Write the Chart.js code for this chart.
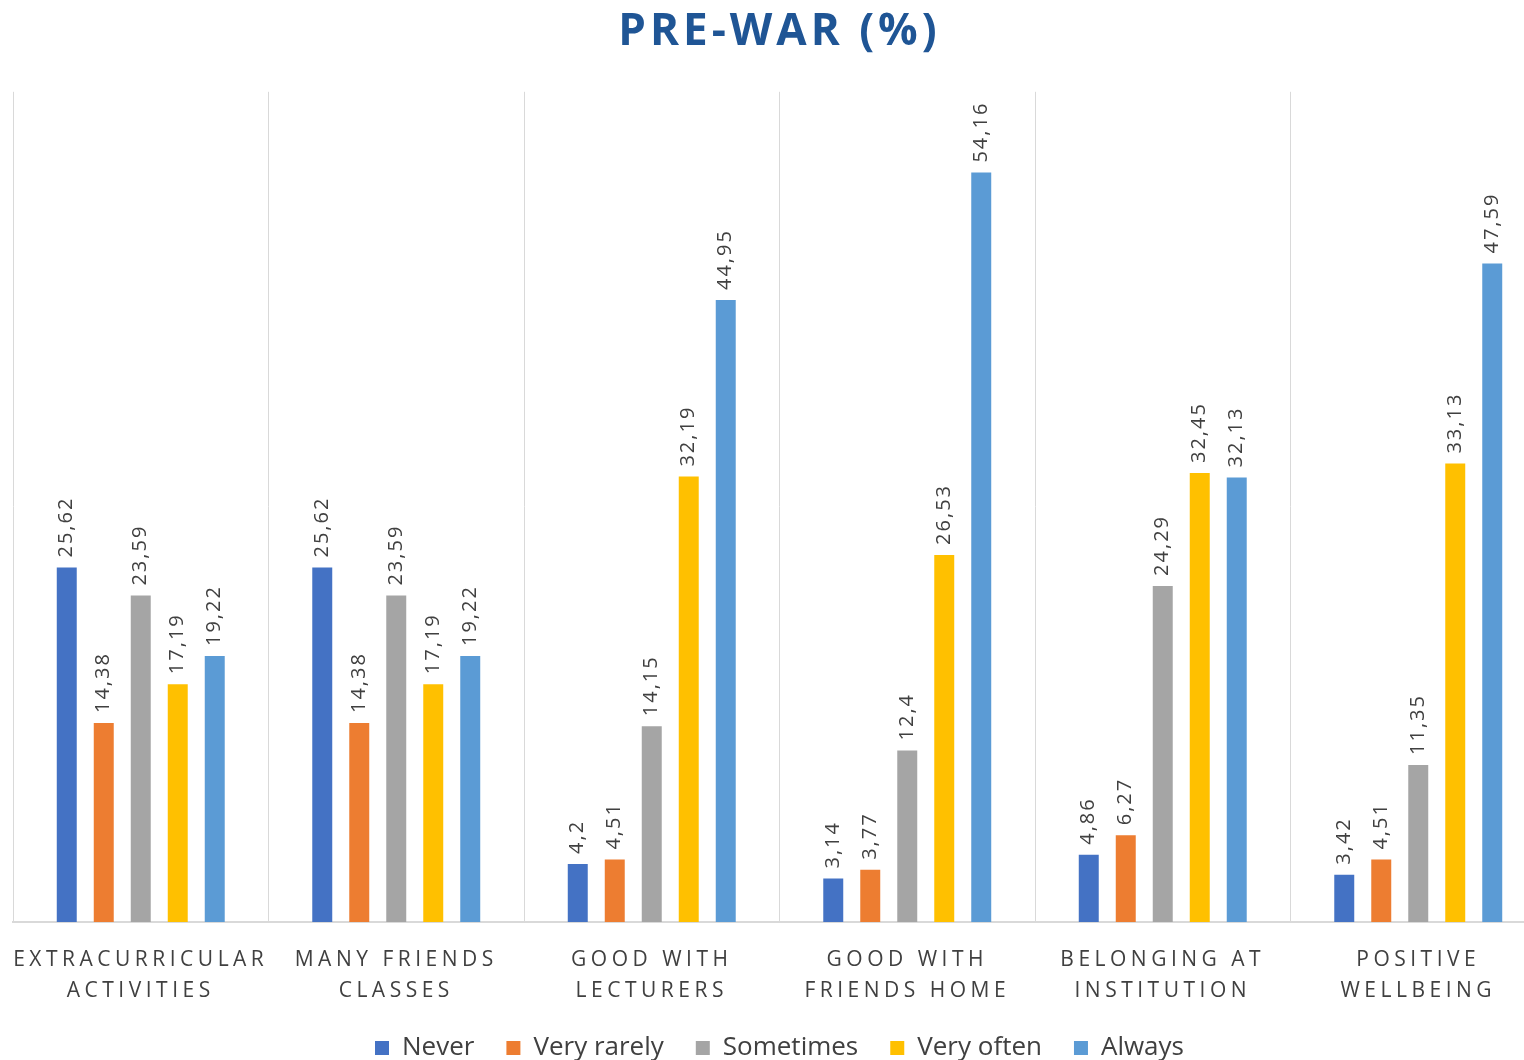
<!DOCTYPE html>
<html lang="en">
<head>
    <meta charset="UTF-8">
    <title>Pre-war (%)</title>
    <script src="https://cdn.jsdelivr.net/npm/chart.js"></script>
    <style>
        html, body {
            margin: 0;
            padding: 0;
            background: #ffffff;
            overflow: hidden;
        }
        #chart {
            display: block;
        }
    </style>
</head>
<body>
    <canvas id="chart" width="1560" height="1060"></canvas>
    <script>
        // data
        const categories = [
            ['EXTRACURRICULAR', 'ACTIVITIES'],
            ['MANY FRIENDS', 'CLASSES'],
            ['GOOD WITH', 'LECTURERS'],
            ['GOOD WITH', 'FRIENDS HOME'],
            ['BELONGING AT', 'INSTITUTION'],
            ['POSITIVE', 'WELLBEING']
        ];
        const seriesNames = ['Never', 'Very rarely', 'Sometimes', 'Very often', 'Always'];
        const never = [25.62, 25.62, 4.2, 3.14, 4.86, 3.42];
        const veryRarely = [14.38, 14.38, 4.51, 3.77, 6.27, 4.51];
        const sometimes = [23.59, 23.59, 14.15, 12.4, 24.29, 11.35];
        const veryOften = [17.19, 17.19, 32.19, 26.53, 32.45, 33.13];
        const always = [19.22, 19.22, 44.95, 54.16, 32.13, 47.59];
        const colors = ['#4472c4', '#ed7d31', '#a5a5a5', '#ffc000', '#5b9bd5'];

        const allSeries = [never, veryRarely, sometimes, veryOften, always];

        // rotated value labels above each bar
        const valueLabels = {
            id: 'valueLabels',
            afterDatasetsDraw(chart) {
                const ctx = chart.ctx;
                ctx.save();
                ctx.font = '20px "Open Sans"';
                ctx.fillStyle = '#404040';
                ctx.letterSpacing = '2px';
                ctx.textAlign = 'left';
                ctx.textBaseline = 'middle';
                chart.data.datasets.forEach(function (ds, i) {
                    chart.getDatasetMeta(i).data.forEach(function (bar, j) {
                        ctx.save();
                        ctx.translate(bar.x, bar.y - 10);
                        ctx.rotate(-Math.PI / 2);
                        ctx.fillText(String(ds.data[j]).replace('.', ','), 0, 0);
                        ctx.restore();
                    });
                });
                ctx.restore();
            }
        };

        // wrap a box's draw so its text gets letter spacing
        function spaceOut(chart, box, method, spacing) {
            if (!box || box['_spaced_' + method]) return;
            const orig = box[method].bind(box);
            box[method] = function (a) {
                chart.ctx.save();
                chart.ctx.letterSpacing = spacing;
                orig(a);
                chart.ctx.restore();
            };
            box['_spaced_' + method] = true;
        }

        const spacedText = {
            id: 'spacedText',
            beforeDraw(chart) {
                spaceOut(chart, chart.scales.x, 'drawLabels', '4.5px');
                spaceOut(chart, chart.titleBlock, 'draw', '4px');
            }
        };

        new Chart(document.getElementById('chart'), {
            type: 'bar',
            data: {
                labels: categories,
                datasets: allSeries.map(function (values, i) {
                    return {
                        label: seriesNames[i],
                        data: values,
                        backgroundColor: colors[i],
                        categoryPercentage: 0.724,
                        barPercentage: 0.54
                    };
                })
            },
            options: {
                responsive: false,
                animation: false,
                devicePixelRatio: 1,
                layout: {
                    padding: { left: 13, right: 14, top: 6, bottom: -11 }
                },
                plugins: {
                    title: {
                        display: true,
                        text: 'PRE-WAR (%)',
                        color: '#1f5595',
                        font: { family: '"Open Sans"', size: 44, weight: 'bold' },
                        padding: { top: 0, bottom: 33 }
                    },
                    legend: {
                        position: 'bottom',
                        labels: {
                            color: '#404040',
                            font: { family: '"Open Sans"', size: 26 },
                            boxWidth: 14,
                            boxHeight: 14,
                            padding: 32
                        }
                    },
                    tooltip: { enabled: false }
                },
                scales: {
                    x: {
                        grid: {
                            offset: true,
                            color: '#d9d9d9',
                            drawTicks: false
                        },
                        border: { color: '#d9d9d9', width: 2 },
                        ticks: {
                            color: '#404040',
                            font: { family: '"Open Sans"', size: 21, lineHeight: 1.5 },
                            padding: 22,
                            maxRotation: 0,
                            autoSkip: false
                        },
                        afterFit: function (scale) {
                            // padding is counted twice by default; take the extra back
                            scale.height -= 26;
                        }
                    },
                    y: {
                        display: false,
                        min: 0,
                        max: 60
                    }
                }
            },
            plugins: [valueLabels, spacedText]
        });
    </script>
</body>
</html>
